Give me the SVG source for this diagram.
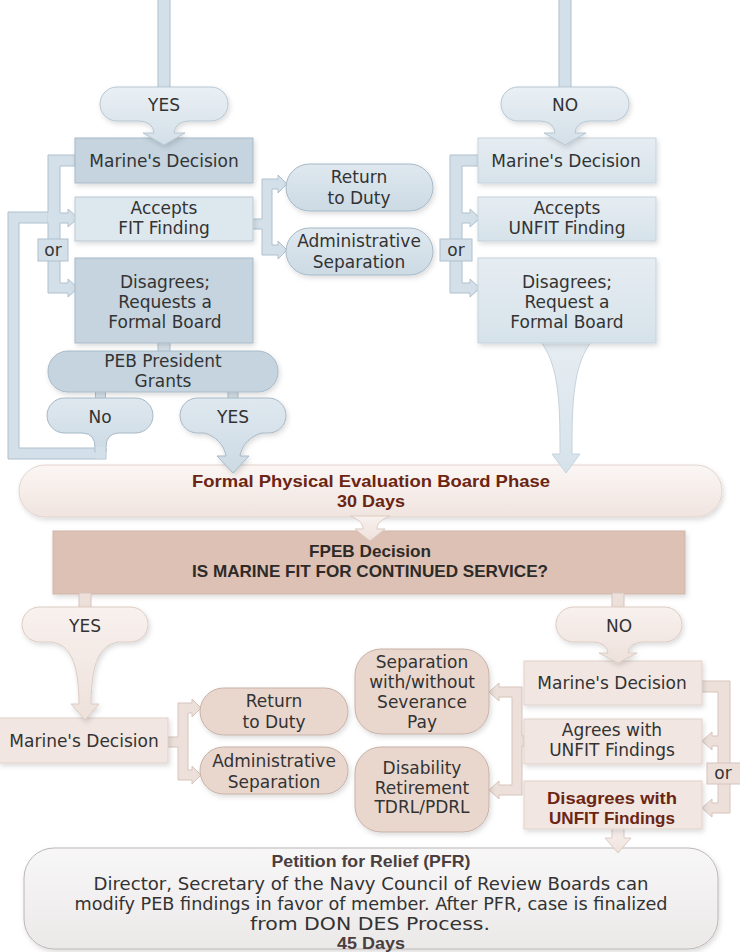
<svg xmlns="http://www.w3.org/2000/svg" width="740" height="952" viewBox="0 0 740 952">
<defs>
<linearGradient id="gBlue" x1="0" y1="0" x2="0" y2="1"><stop offset="0" stop-color="#eaf0f4"/><stop offset="1" stop-color="#d3dfe8"/></linearGradient>
<linearGradient id="gBluePill" x1="0" y1="0" x2="0" y2="1"><stop offset="0" stop-color="#dfe8ef"/><stop offset="1" stop-color="#ccdae4"/></linearGradient>
<linearGradient id="gBlueR" x1="0" y1="0" x2="0" y2="1"><stop offset="0" stop-color="#e6edf2"/><stop offset="1" stop-color="#d6e2ea"/></linearGradient>
<linearGradient id="gPink" x1="0" y1="0" x2="0" y2="1"><stop offset="0" stop-color="#f8f1ee"/><stop offset="1" stop-color="#eee1db"/></linearGradient>
<linearGradient id="gPhase" x1="0" y1="0" x2="0" y2="1"><stop offset="0" stop-color="#fbf6f4"/><stop offset="1" stop-color="#f0e4df"/></linearGradient>
<linearGradient id="gPFR" x1="0" y1="0" x2="0" y2="1"><stop offset="0" stop-color="#f8f7f7"/><stop offset="1" stop-color="#ebe8e8"/></linearGradient>
<filter id="sh" x="-10%" y="-10%" width="130%" height="140%"><feDropShadow dx="1.5" dy="2.5" stdDeviation="2.5" flood-color="#000" flood-opacity="0.14"/></filter>
</defs>
<style>
.t{font-family:"DejaVu Sans",sans-serif;font-size:17px;fill:#333;text-anchor:middle}
.b{font-family:"Liberation Sans",Arial,sans-serif;font-weight:bold;font-size:16.5px;text-anchor:middle}
.red{fill:#6b2512}
.dk{fill:#2e2a28}
.gr{fill:#4a3e3e}
.sh{filter:url(#sh)}
.tb{fill:url(#gBlue);stroke:#b5c6d2;stroke-width:1}
.bd{fill:#c5d4df;stroke:#a8bac8;stroke-width:1}
.bl{fill:#dde7ee;stroke:#b9c9d4;stroke-width:1}
.bp{fill:url(#gBluePill);stroke:#a6b8c6;stroke-width:1}
.br{fill:url(#gBlueR);stroke:#c6d3dd;stroke-width:1}
.cb{fill:#d4e0e9;stroke:#afc0cd;stroke-width:1}
.cp{fill:#ede0da;stroke:#d6c4bb;stroke-width:1}
.pb{fill:url(#gPink);stroke:#dccbc3;stroke-width:1}
.pk{fill:#f1e6e1;stroke:#e0d1ca;stroke-width:1}
.pp{fill:#e9d7ce;stroke:#c7b1a6;stroke-width:1}
</style>

<g id="phase">
<rect class="sh" x="19" y="465" width="703" height="52" rx="26" fill="url(#gPhase)" stroke="#e2d4cd"/>
<text class="b red" x="371" y="487" textLength="358" lengthAdjust="spacingAndGlyphs">Formal Physical Evaluation Board Phase</text>
<text class="b red" x="371" y="507" textLength="68" lengthAdjust="spacingAndGlyphs">30 Days</text>
</g>
<g id="fpeb">
<rect class="sh" x="53" y="531" width="632" height="63" fill="#dcc1b4" stroke="#cfb5a8"/>
<text class="b dk" x="370" y="557" textLength="122" lengthAdjust="spacingAndGlyphs">FPEB Decision</text>
<text class="b dk" x="370" y="577" textLength="356" lengthAdjust="spacingAndGlyphs">IS MARINE FIT FOR CONTINUED SERVICE?</text>
</g>
<g id="pfr">
<rect class="sh" x="24" y="848" width="694" height="101" rx="30" fill="url(#gPFR)" stroke="#bcb6b6"/>
<text class="b gr" x="371" y="867" textLength="199" lengthAdjust="spacingAndGlyphs">Petition for Relief (PFR)</text>
<text class="t" x="371" y="890" textLength="555" lengthAdjust="spacingAndGlyphs">Director, Secretary of the Navy Council of Review Boards can</text>
<text class="t" x="371" y="910" textLength="593" lengthAdjust="spacingAndGlyphs">modify PEB findings in favor of member. After PFR, case is finalized</text>
<text class="t" x="370" y="930" textLength="240" lengthAdjust="spacingAndGlyphs">from DON DES Process.</text>
<text class="b gr" x="371" y="949" textLength="68" lengthAdjust="spacingAndGlyphs">45 Days</text>
</g>

<g id="connectors">
<rect class="cb" x="158" y="-2" width="12" height="92"/>
<rect class="cb" x="559" y="-2" width="12" height="92"/>
<polygon class="cb" points="106,448 106,459 8,459 8,212 58,212 58,223 19,223 19,448"/>
<path class="cb" d="M75,155 H48 V293 H68 V297 L78,288 L68,279 V283 H60 V223 H68 V227 L78,218 L68,209 V213 H60 V166 H75 Z"/>
<rect x="47.5" y="212.5" width="12" height="10" fill="#d4e0e9"/>
<rect class="cb" x="38" y="239" width="30" height="22"/>
<text class="t" x="53" y="256">or</text>
<path class="cb" d="M478,155 H450 V293 H470 V297 L480,288 L470,279 V283 H462 V223 H470 V227 L480,218 L470,209 V213 H462 V166 H478 Z"/>
<rect class="cb" x="440" y="239" width="32" height="22"/>
<text class="t" x="456" y="256">or</text>
<path class="cb" d="M252,219 H262 V179 H278 V175 L287,184 L278,193 V189 H272 V245 H278 V241 L287,250 L278,259 V255 H262 V229 H252 Z"/>
<rect class="cb" x="158" y="342" width="12" height="10"/>
<rect class="cb" x="95.5" y="391" width="10" height="8"/>
<rect class="cb" x="228" y="391" width="10" height="8"/>
<path class="br" d="M541,342 C556,362 560,392 560,442 V454 H552 L566,473 L580,454 H572 V442 C572,392 576,362 591,342 Z"/>
<path class="pb" d="M350,516 C360,520 363,524 363,529 H355 L370,541 L385,529 H377 C377,524 380,520 390,516 Z"/>
<rect class="cp" x="79" y="593" width="12" height="15"/>
<rect class="cp" x="612" y="593" width="12" height="15"/>
<path class="cp" d="M168,737 H178 V703 H192 V699 L201,708 L192,717 V713 H188 V770 H192 V766 L201,775 L192,784 V780 H178 V747 H168 Z"/>
<path class="cp" d="M524,736 H522 V687 H499 V683 L489,692 L499,701 V697 H512 V785 H499 V781 L489,790 L499,799 V795 H522 V746 H524 Z"/>
<path class="cp" d="M702,681 H730 V813 H712 V817 L702,808 L712,799 V803 H718 V746 H712 V750 L702,741 L712,732 V736 H718 V692 H702 Z"/>
<rect class="cp" x="707" y="763" width="34" height="21"/>
<text class="t" x="723" y="779">or</text>
<path class="pb" d="M612,828 H624 V838 H631 L618,853 L605,838 H612 Z"/>
</g>

<g id="left-marine-decision">
<rect class="bd sh" x="75" y="138" width="178" height="45"/>
<text class="t" x="164" y="167">Marine's Decision</text>
</g>
<g id="yes-top">
<path class="tb sh" d="M117,87 H211 A17,17 0 0 1 211,121 H188 Q175,122 174,133 H185 L164,145 L143,133 H154 Q153,122 140,121 H117 A17,17 0 0 1 117,87 Z"/>
<text class="t" x="164" y="111">YES</text>
</g>
<g id="accepts-fit">
<rect class="bl sh" x="75" y="197" width="178" height="44"/>
<text class="t" x="164" y="214">Accepts</text>
<text class="t" x="164" y="234">FIT Finding</text>
</g>
<g id="disagrees-left">
<rect class="bd sh" x="75" y="258" width="178" height="85"/>
<text class="t" x="165" y="288">Disagrees;</text>
<text class="t" x="165" y="308">Requests a</text>
<text class="t" x="165" y="328">Formal Board</text>
</g>
<g id="peb-president">
<rect class="bd sh" x="48" y="351" width="230" height="41" rx="20"/>
<text class="t" x="163" y="367">PEB President</text>
<text class="t" x="163" y="387">Grants</text>
</g>
<g id="no-small">
<path class="bp" d="M64.5,398 H135.5 A17.5,17.5 0 0 1 135.5,433 H118 Q106,434 106,447 V452 H95 V447 Q95,434 83,433 H64.5 A17.5,17.5 0 0 1 64.5,398 Z"/>
<rect x="95.5" y="447" width="10" height="11.5" fill="#d4e0e9"/>
<text class="t" x="100" y="423">No</text>
</g>
<g id="yes-small">
<path class="bp sh" d="M197.5,398 H268.5 A17.5,17.5 0 0 1 268.5,433 H262 C250,436 242,445 240,456 H249 L233,473 L217,456 H226 C224,445 216,436 204,433 H197.5 A17.5,17.5 0 0 1 197.5,398 Z"/>
<text class="t" x="233" y="423">YES</text>
</g>
<g id="return-top">
<rect class="bp sh" x="286" y="164" width="147" height="47" rx="23.5"/>
<text class="t" x="359" y="183">Return</text>
<text class="t" x="359" y="204">to Duty</text>
</g>
<g id="admin-top">
<rect class="bp sh" x="286" y="228" width="147" height="47" rx="23.5"/>
<text class="t" x="359" y="247">Administrative</text>
<text class="t" x="359" y="268">Separation</text>
</g>
<g id="right-marine-decision">
<rect class="br sh" x="478" y="138" width="178" height="45"/>
<text class="t" x="566" y="167">Marine's Decision</text>
</g>
<g id="no-top">
<path class="tb sh" d="M518,87 H612 A17,17 0 0 1 612,121 H589 Q576,122 575,133 H586 L565,145 L544,133 H555 Q554,122 541,121 H518 A17,17 0 0 1 518,87 Z"/>
<text class="t" x="565" y="111">NO</text>
</g>
<g id="accepts-unfit">
<rect class="br sh" x="478" y="197" width="178" height="44"/>
<text class="t" x="567" y="214">Accepts</text>
<text class="t" x="567" y="234">UNFIT Finding</text>
</g>
<g id="disagrees-right">
<rect class="br sh" x="478" y="258" width="178" height="85"/>
<text class="t" x="567" y="288">Disagrees;</text>
<text class="t" x="567" y="308">Request a</text>
<text class="t" x="567" y="328">Formal Board</text>
</g>

<g id="low-marine-decision">
<rect class="pk sh" x="-1" y="718" width="169" height="45"/>
<text class="t" x="84" y="747">Marine's Decision</text>
</g>
<g id="yes-low">
<path class="pb sh" d="M39.5,607 H130.5 A17.5,17.5 0 0 1 130.5,642 H118 C100,645 92,662 91,700 V704 H99 L85,720 L71,704 H79 V700 C78,662 70,645 52,642 H39.5 A17.5,17.5 0 0 1 39.5,607 Z"/>
<text class="t" x="85" y="632">YES</text>
</g>
<g id="return-low">
<rect class="pp sh" x="200" y="688" width="148" height="47" rx="23.5"/>
<text class="t" x="274" y="707">Return</text>
<text class="t" x="274" y="728">to Duty</text>
</g>
<g id="admin-low">
<rect class="pp sh" x="200" y="747" width="148" height="47" rx="23.5"/>
<text class="t" x="274" y="767">Administrative</text>
<text class="t" x="274" y="788">Separation</text>
</g>
<g id="separation">
<rect class="pp sh" x="355" y="649" width="134" height="85" rx="26"/>
<text class="t" x="422" y="668">Separation</text>
<text class="t" x="422" y="688">with/without</text>
<text class="t" x="422" y="708">Severance</text>
<text class="t" x="422" y="728">Pay</text>
</g>
<g id="disability">
<rect class="pp sh" x="355" y="747" width="134" height="85" rx="26"/>
<text class="t" x="422" y="774">Disability</text>
<text class="t" x="422" y="794">Retirement</text>
<text class="t" x="422" y="813">TDRL/PDRL</text>
</g>
<g id="low-right-marine-decision">
<rect class="pk sh" x="524" y="661" width="178" height="44"/>
<text class="t" x="612" y="689">Marine's Decision</text>
</g>
<g id="no-low">
<path class="pb sh" d="M573.5,607 H664.5 A17.5,17.5 0 0 1 664.5,642 H642 Q629,643 628,653 H637 L618,663 L599,653 H608 Q607,643 594,642 H573.5 A17.5,17.5 0 0 1 573.5,607 Z"/>
<text class="t" x="619" y="632">NO</text>
</g>
<g id="agrees-unfit">
<rect class="pk sh" x="524" y="719" width="178" height="45"/>
<text class="t" x="612" y="736">Agrees with</text>
<text class="t" x="612" y="756">UNFIT Findings</text>
</g>
<g id="disagrees-unfit">
<rect class="pk sh" x="524" y="781" width="178" height="48" fill="#f3e9e4"/>
<text class="b red" x="612" y="804" textLength="130" lengthAdjust="spacingAndGlyphs">Disagrees with</text>
<text class="b red" x="612" y="824" textLength="126" lengthAdjust="spacingAndGlyphs">UNFIT Findings</text>
</g>
</svg>
